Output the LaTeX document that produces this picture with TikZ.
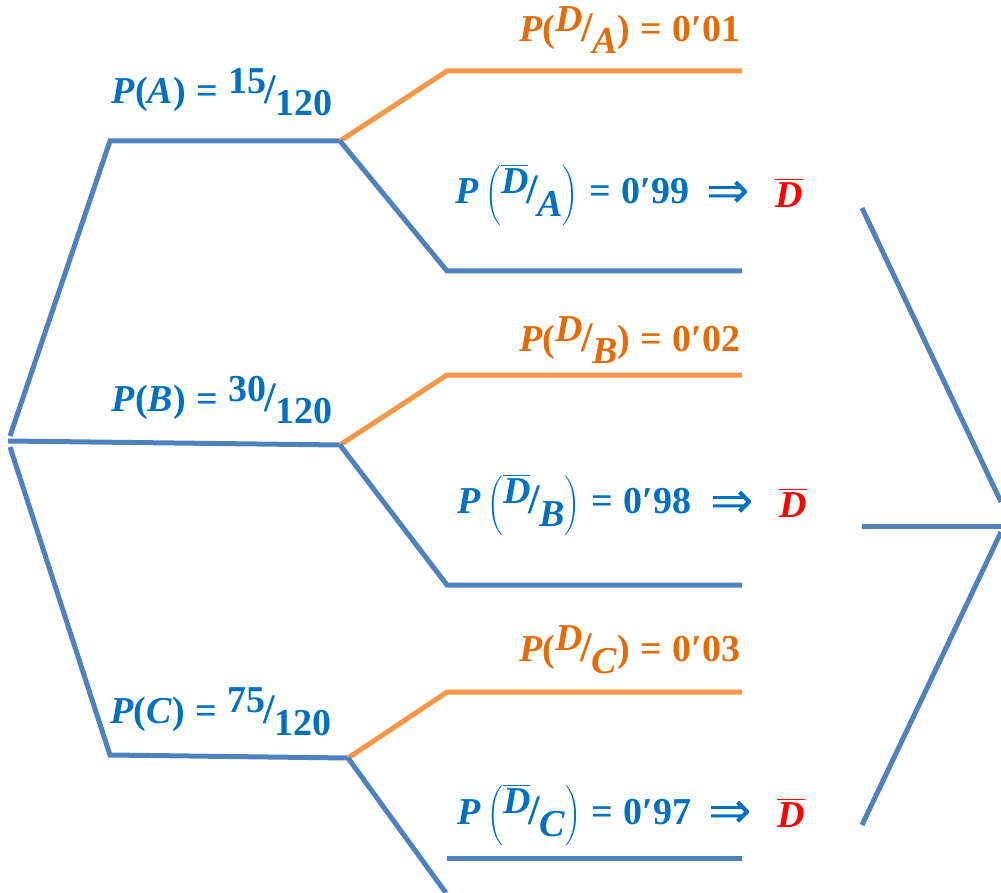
\documentclass[tikz,border=0pt]{standalone}
\usepackage{fontspec}
\setmainfont{Liberation Serif}
\newfontfamily\symf{DejaVu Sans}
\definecolor{lblue}{HTML}{4F81BD}
\definecolor{lorange}{HTML}{F79646}
\definecolor{tblue}{HTML}{0070C0}
\definecolor{torange}{HTML}{E36C09}
\definecolor{tred}{HTML}{FF0000}
\newcommand\ffrac[2]{\raisebox{0.6ex}{#1}\kern-0.05em{\fontsize{21}{21}\selectfont/}\kern-0.02em\raisebox{-0.7ex}{#2}}
\newcommand\vi[1]{\textit{#1}}
\newcommand\Dbar{$\overline{\hbox{\vi{D}}}$}
\newcommand\eq{\;=\;}
\tikzset{
  bl/.style={draw=lblue,line width=2.5pt},
  ol/.style={draw=lorange,line width=2.5pt},
  lab/.style={font=\fontsize{19}{22}\selectfont\bfseries,inner sep=0pt},
  bt/.style={lab,text=tblue},
  ot/.style={lab,text=torange},
  rt/.style={lab,text=tred},
  arr/.style={font=\fontsize{26}{28}\selectfont\symf,inner sep=0pt,text=tblue}
}
\begin{document}
\begin{tikzpicture}[x=0.5pt,y=-0.5pt]
\useasboundingbox (0,0) rectangle (1001,893);
% coordinates
\coordinate (r1) at (10,436);
\coordinate (A) at (110,141);
\coordinate (Aend) at (340,141);
\coordinate (B0) at (8,441);
\coordinate (Bend) at (340,445);
\coordinate (r3) at (10,447);
\coordinate (C) at (110,755);
\coordinate (Cend) at (348,758);
\coordinate (ADa) at (447,71);  \coordinate (ADb) at (742,71);
\coordinate (ANa) at (447,271); \coordinate (ANb) at (742,271);
\coordinate (BDa) at (447,375); \coordinate (BDb) at (742,375);
\coordinate (BNa) at (447,585); \coordinate (BNb) at (742,585);
\coordinate (CDa) at (447,692); \coordinate (CDb) at (742,692);
\coordinate (CNa) at (446,893);
\coordinate (CNh1) at (447,858); \coordinate (CNh2) at (742,858);
\coordinate (R1) at (862,208); \coordinate (R2) at (1001,502);
\coordinate (R3) at (862,526); \coordinate (R4) at (1001,526);
\coordinate (R5) at (1001,532); \coordinate (R6) at (862,825);
% first level
\draw[bl] (r1) -- (A) -- (Aend);
\draw[bl] (B0) -- (Bend);
\draw[bl] (r3) -- (C) -- (Cend);
% second level
\draw[ol] (Aend) -- (ADa) -- (ADb);
\draw[bl] (Aend) -- (ANa) -- (ANb);
\draw[ol] (Bend) -- (BDa) -- (BDb);
\draw[bl] (Bend) -- (BNa) -- (BNb);
\draw[ol] (Cend) -- (CDa) -- (CDb);
\draw[bl] (Cend) -- (CNa);
\draw[bl] (CNh1) -- (CNh2);
% right
\draw[bl] (R1) -- (R2);
\draw[bl] (R3) -- (R4);
\draw[bl] (R5) -- (R6);
% labels
\node[bt] (lA) at (222,92) {\vi{P}(\vi{A})\eq\ffrac{15}{120}};
\node[bt] (lB) at (222,400) {\vi{P}(\vi{B})\eq\ffrac{30}{120}};
\node[bt] (lC) at (221,712) {\vi{P}(\vi{C})\eq\ffrac{75}{120}};
\node[ot] (lDA) at (630,30) {\vi{P}(\ffrac{\vi{D}}{\vi{A}})\eq0′01};
\node[ot] (lDB) at (630,340) {\vi{P}(\ffrac{\vi{D}}{\vi{B}})\eq0′02};
\node[ot] (lDC) at (630,650) {\vi{P}(\ffrac{\vi{D}}{\vi{C}})\eq0′03};
\node[bt,anchor=west] (lNA) at (455,195) {\vi{P}\,$\left(\hbox{\ffrac{\Dbar}{\vi{A}}}\right)$\eq0′99};
\node[bt,anchor=west] (lNB) at (457,505) {\vi{P}\,$\left(\hbox{\ffrac{\Dbar}{\vi{B}}}\right)$\eq0′98};
\node[bt,anchor=west] (lNC) at (457,815) {\vi{P}\,$\left(\hbox{\ffrac{\Dbar}{\vi{C}}}\right)$\eq0′97};
\node[arr] (aA) at (728,195) {⇒};
\node[arr] (aB) at (732,505) {⇒};
\node[arr] (aC) at (730,815) {⇒};
\node[rt] (dA) at (789,193) {\Dbar};
\node[rt] (dB) at (793,503) {\Dbar};
\node[rt] (dC) at (791,813) {\Dbar};
\end{tikzpicture}
\end{document}
